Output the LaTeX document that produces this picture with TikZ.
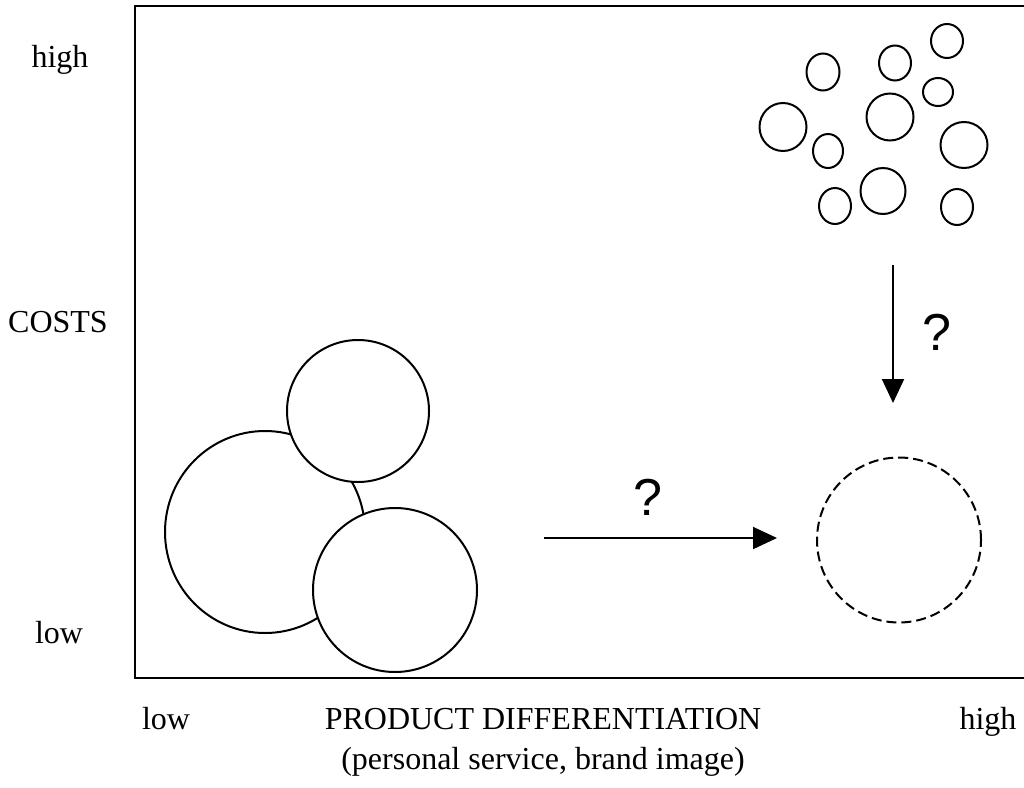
\documentclass[tikz,border=0pt]{standalone}
\usepackage{fontspec}
\setmainfont{Liberation Serif}
\newfontfamily\qmarkfont{Liberation Sans}
\usetikzlibrary{arrows.meta}
\usetikzlibrary{shapes.geometric}
\usetikzlibrary{positioning}

\begin{document}
\begin{tikzpicture}[
            x = 1pt, y = -1pt, % pixel-like units, y runs downwards
            > = {Triangle[length=24pt, width=22pt]}, % arrow head style
            line width = 2pt % line style
            ]

        \tikzstyle{firm}=[
            draw,
            ellipse,
            inner sep = 0pt,
            fill = white
        ]
        \tikzstyle{axislabel}=[
            font = \fontsize{32}{38}\selectfont,
            anchor = base,
            inner sep = 0pt
        ]
        \tikzstyle{query}=[
            font = \qmarkfont\fontsize{52}{60}\selectfont,
            inner sep = 0pt
        ]

        \useasboundingbox (0,0) rectangle (1024,787);
        \clip (0,0) rectangle (1024,787);

        % frame
        \draw[line width = 2.6pt] (135,6) rectangle (1060,678);

        % axis labels
        \node[axislabel] (yhigh) at (60,67) {high};
        \node[axislabel] (ycost) at (58,332) {COSTS};
        \node[axislabel] (ylow) at (59,643) {low};
        \node[axislabel] (xlow) at (166,729) {low};
        \node[axislabel] (xdiff) at (543,729) {PRODUCT DIFFERENTIATION};
        \node[axislabel] (xhigh) at (988,729) {high};
        \node[axislabel] (xnote) at (543,769) {(personal service, brand image)};

        % many small firms
        \node[firm, minimum width=33pt, minimum height=37pt] (S1) at (823,72) {};
        \node[firm, minimum width=32pt, minimum height=35pt] (S2) at (895,63) {};
        \node[firm, minimum width=32pt, minimum height=34pt] (S3) at (947,41) {};
        \node[firm, minimum width=30pt, minimum height=28pt] (S4) at (938,92) {};
        \node[firm, minimum width=47pt, minimum height=47pt] (S5) at (890,117) {};
        \node[firm, minimum width=47pt, minimum height=48pt] (S6) at (783,127) {};
        \node[firm, minimum width=30pt, minimum height=34pt] (S7) at (828,151) {};
        \node[firm, minimum width=47pt, minimum height=46pt] (S8) at (964,145) {};
        \node[firm, minimum width=32pt, minimum height=36pt] (S9) at (835,206) {};
        \node[firm, minimum width=45pt, minimum height=46pt] (S10) at (883,191) {};
        \node[firm, minimum width=32pt, minimum height=36pt] (S11) at (957,207) {};

        % few large firms
        \node[firm, minimum width=200pt, minimum height=202pt] (L1) at (265,532) {};
        \node[firm, minimum width=142pt, minimum height=142pt] (L2) at (358,411) {};
        \node[firm, minimum width=164pt, minimum height=164pt] (L3) at (395,590) {};

        % target position
        \node[firm, dash pattern=on 10pt off 5pt, minimum width=164pt, minimum height=165pt] (T) at (899,540) {};

        % moves
        \coordinate (Hs) at (544,538);
        \coordinate (He) at (777,538);
        \coordinate (Vs) at (893,265);
        \coordinate (Ve) at (893,403);
        \draw[->] (Hs) -- (He);
        \draw[->] (Vs) -- (Ve);
        \node[query] (Hq) at (648,497) {?};
        \node[query] (Vq) at (937,332) {?};

\end{tikzpicture}
\end{document}
